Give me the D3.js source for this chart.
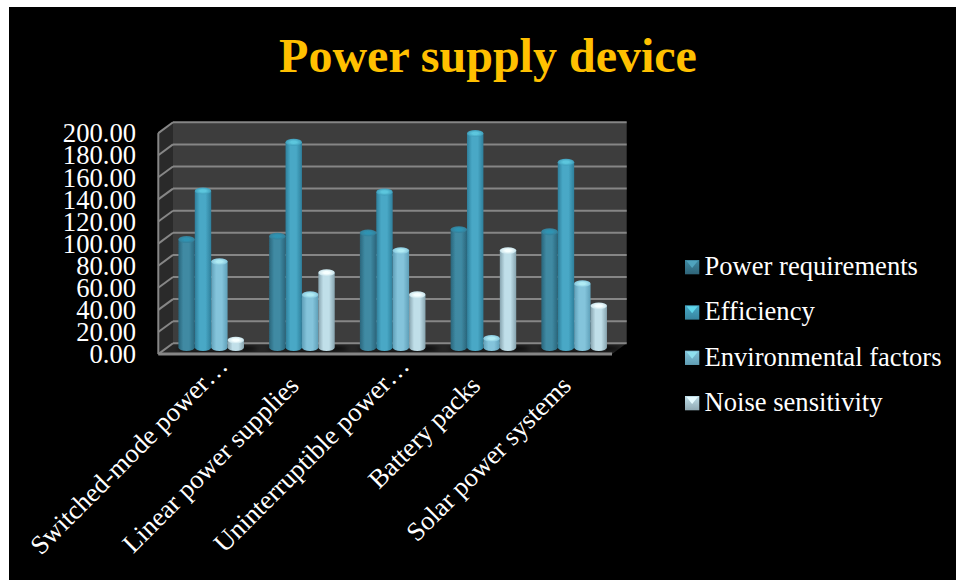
<!DOCTYPE html>
<html><head><meta charset="utf-8">
<script src="https://cdn.jsdelivr.net/npm/d3@7"></script>
<style>html,body{margin:0;padding:0;background:#fff}svg{display:block}text{font-family:"Liberation Serif",serif}</style>
</head><body><svg id="c" width="956" height="580"></svg>
<script>
const title = "Power supply device";
const categories = ["Switched-mode power…","Linear power supplies","Uninterruptible power…","Battery packs","Solar power systems"];
const seriesNames = ["Power requirements","Efficiency","Environmental factors","Noise sensitivity"];
const powerRequirements = [100,103,106,109,107];
const efficiency = [144,188,143,196,170];
const environmentalFactors = [80,50,90,10.5,60];
const noiseSensitivity = [9,70,50,90,40];
const seriesValues = [powerRequirements,efficiency,environmentalFactors,noiseSensitivity];
const yTicks = d3.range(0,201,20);
const seriesColors = [
 {edge:"#2a657b",mid:"#3f8aa3",top:"#2f93b2",rim:"#347f99",lite:"#4fa3bd",dark:"#2f6478"},
 {edge:"#2f7f9b",mid:"#48a8c6",top:"#5cc6dd",rim:"#3f9dba",lite:"#5fd6ea",dark:"#37859f"},
 {edge:"#5e9fb8",mid:"#84c4db",top:"#b0ebf4",rim:"#84c5dc",lite:"#8fe0ee",dark:"#5f9db3"},
 {edge:"#86a3ae",mid:"#c0dfe9",top:"#f6ffff",rim:"#c6e2ea",lite:"#e6fbff",dark:"#8fa9b3"}];

const svg = d3.select("#c");
const defs = svg.append("defs");
seriesColors.forEach((c,i)=>{
  const g = defs.append("linearGradient").attr("id","bar"+i);
  [[0,c.edge],[.3,c.mid],[.65,c.mid],[1,c.edge]].forEach(s=>g.append("stop").attr("offset",s[0]).attr("stop-color",s[1]));
  const t = defs.append("radialGradient").attr("id","top"+i);
  [[0,c.top],[.35,c.top],[1,c.rim]].forEach(s=>t.append("stop").attr("offset",s[0]).attr("stop-color",s[1]));
  const l = defs.append("linearGradient").attr("id","leg"+i).attr("x1",0).attr("x2",0).attr("y1",0).attr("y2",1);
  [[0,c.mid],[1,c.dark]].forEach(s=>l.append("stop").attr("offset",s[0]).attr("stop-color",s[1]));
});
defs.append("filter").attr("id","blur").append("feGaussianBlur").attr("stdDeviation",2);
defs.append("filter").attr("id","soft").append("feGaussianBlur").attr("stdDeviation",0.5);

svg.append("rect").attr("x",9).attr("y",7).attr("width",947).attr("height",573).attr("fill","#000");
svg.append("text").attr("x",488).attr("y",72).attr("text-anchor","middle")
  .attr("font-size",48).attr("font-weight","bold").attr("fill","#FFC000").text(title);

const y = d3.scaleLinear().domain([0,200]).range([343.3,122.3]);
const left = 173, right = 626.7;
const x0 = d3.scaleBand().domain(categories).range([left,right]);
const depth = {dx:14.7,dy:10.8,barTop:6.7,barBase:4.3};
const wall = svg.append("g");
const pts = a=>a.map(p=>p.join(",")).join(" ");
wall.append("rect").attr("x",left).attr("y",y(200)).attr("width",right-left).attr("height",y(0)-y(200)).attr("fill","#3d3d3d");
wall.append("polygon").attr("points",pts([[left,y(200)],[left,y(0)],[left-depth.dx,y(0)+depth.dy],[left-depth.dx,y(200)+depth.dy]])).attr("fill","#2a2a2a");
wall.append("polygon").attr("points",pts([[left,y(0)],[right,y(0)],[right-depth.dx,y(0)+depth.dy],[left-depth.dx,y(0)+depth.dy]])).attr("fill","#262626");
yTicks.forEach(t=>{
  wall.append("line").attr("x1",left).attr("x2",right).attr("y1",y(t)).attr("y2",y(t)).attr("stroke","#868686").attr("stroke-width",2);
  wall.append("line").attr("x1",left).attr("x2",left-depth.dx).attr("y1",y(t)).attr("y2",y(t)+depth.dy).attr("stroke","#868686").attr("stroke-width",2);
});
wall.append("line").attr("x1",left-depth.dx).attr("x2",left-depth.dx).attr("y1",y(200)+depth.dy).attr("y2",y(0)+depth.dy).attr("stroke","#868686").attr("stroke-width",2);
wall.append("line").attr("x1",left-depth.dx).attr("x2",right-depth.dx).attr("y1",y(0)+depth.dy).attr("y2",y(0)+depth.dy).attr("stroke","#868686").attr("stroke-width",3);

// y axis
const ga = svg.append("g").attr("transform",`translate(136,11)`)
  .call(d3.axisLeft(y).tickValues(yTicks).tickFormat(d3.format(".2f")).tickSize(0).tickPadding(0));
ga.select(".domain").remove();
ga.selectAll("text").attr("font-size",26.6).attr("fill","#fff").attr("font-family","Liberation Serif");

// bars
const barW = 16.4, groupOffset = 5.4;
const x1 = d3.scaleBand().domain(d3.range(4)).range([0,barW*4]);
const base = y(0)+depth.barBase;
const ry = 3.4;
const groups = svg.selectAll("g.grp").data(categories).join("g").attr("class","grp")
  .attr("transform",c=>`translate(${x0(c)+groupOffset},0)`);
groups.append("ellipse").attr("cx",barW*2+6).attr("cy",base+1).attr("rx",barW*2+8).attr("ry",2.5).attr("fill","#111").attr("filter","url(#blur)");
groups.each(function(c,ci){
  const g = d3.select(this).append("g").attr("filter","url(#soft)");
  seriesValues.forEach((vals,si)=>{
    const bx = x1(si), top = y(vals[ci])+depth.barTop;
    g.append("path")
      .attr("d",`M${bx},${top}V${base}A${barW/2},${ry} 0 0 0 ${bx+barW},${base}V${top}Z`)
      .attr("fill",`url(#bar${si})`);
    g.append("ellipse").attr("cx",bx+barW/2).attr("cy",top).attr("rx",barW/2).attr("ry",ry).attr("fill",`url(#top${si})`);
  });
});

// x axis
const gx = svg.append("g").attr("transform",`translate(${-depth.dx+6},${y(0)+depth.dy})`)
  .call(d3.axisBottom(x0).tickSize(0).tickPadding(0));
gx.select(".domain").remove();
gx.selectAll("text").attr("font-size",26.6).attr("fill","#fff").attr("font-family","Liberation Serif")
  .attr("text-anchor","end").attr("dy",0)
  .attr("dx",d=>d.endsWith("…")?"1.05em":0)
  .attr("transform","translate(0,33) rotate(-45)");

// legend
const legendY = d3.scalePoint().domain(seriesNames).range([266.5,402.5]);
const lg = svg.selectAll("g.leg").data(seriesNames).join("g").attr("class","leg")
  .attr("transform",d=>`translate(685,${legendY(d)})`);
lg.append("rect").attr("x",0).attr("y",-6.5).attr("width",14.3).attr("height",14.3).attr("fill",(d,i)=>`url(#leg${i})`);
lg.append("polygon").attr("points",pts([[1.5,-5.5],[12.8,-5.5],[7.15,1.5]])).attr("fill",(d,i)=>seriesColors[i].lite);
lg.append("text").attr("x",19.5).attr("y",0).attr("dy","0.32em").attr("font-size",26.6).attr("fill","#fff").text(d=>d);
</script></body></html>
